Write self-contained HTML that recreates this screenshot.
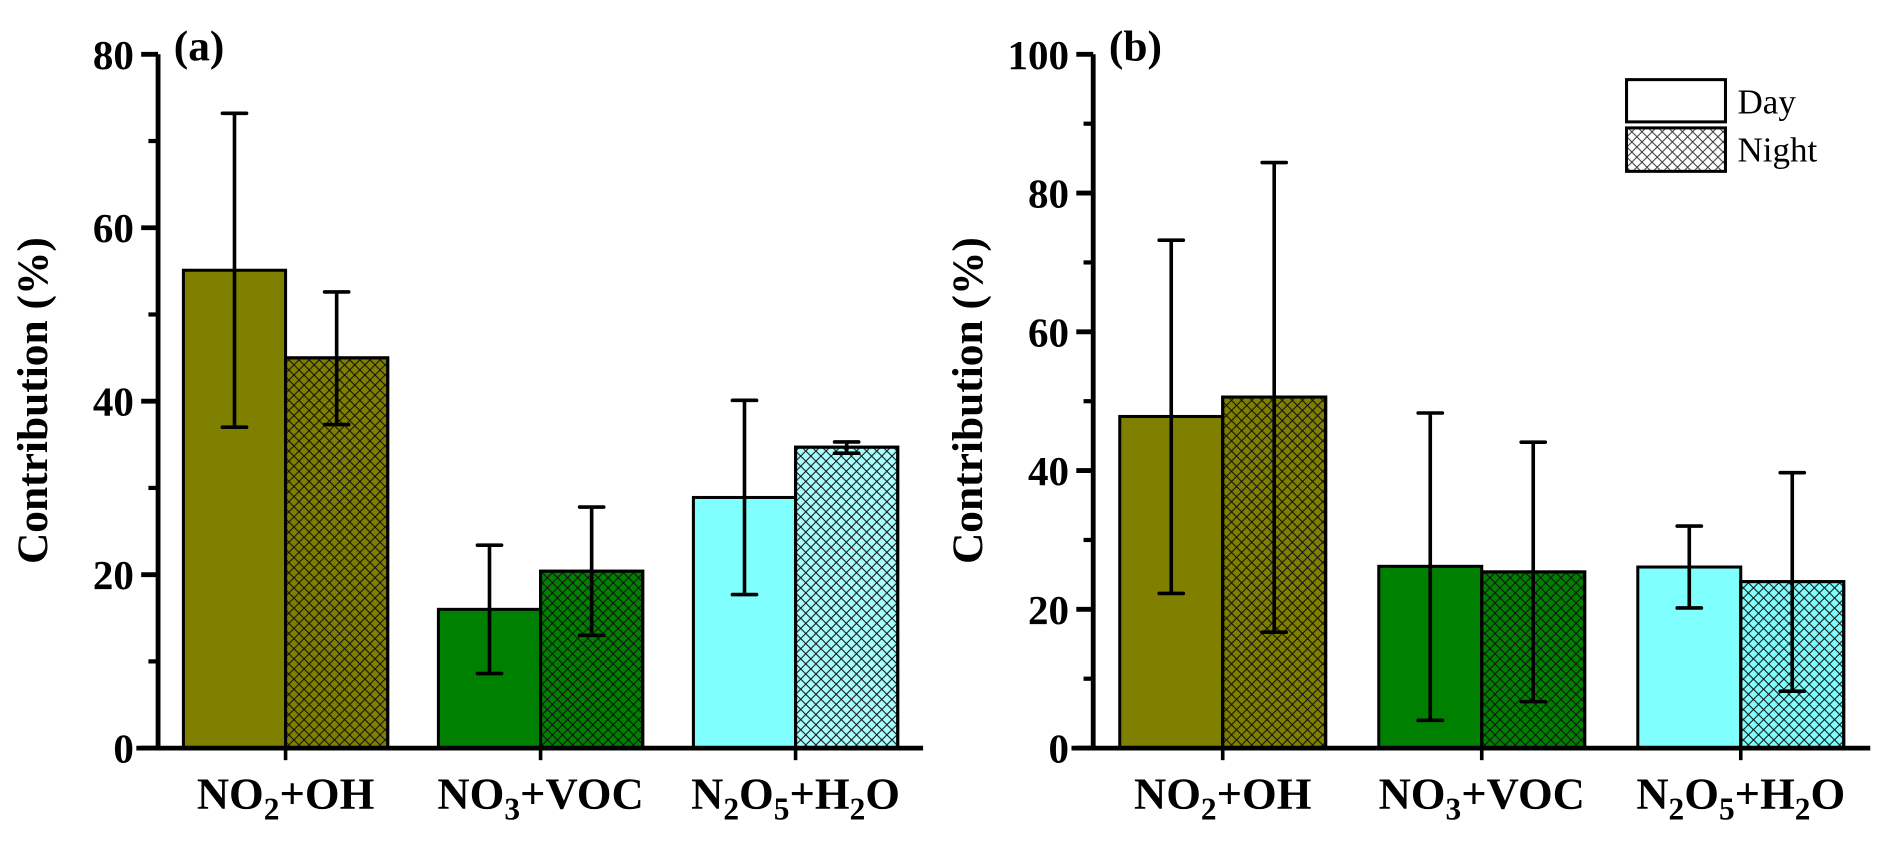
<!DOCTYPE html>
<html><head><meta charset="utf-8"><style>
html,body{margin:0;padding:0;background:#fff;}
svg{display:block;font-family:"Liberation Serif",serif;}
</style></head><body>
<svg id="chart" width="1892" height="845" viewBox="0 0 1568 700.3" xmlns="http://www.w3.org/2000/svg">
<defs>
<pattern id="hatchDark" patternUnits="userSpaceOnUse" width="8.4" height="8.4">
<path d="M0,0 L8.4,8.4 M8.4,0 L0,8.4" stroke="#111" stroke-width="0.9" fill="none"/>
</pattern>
<pattern id="hatchGrey" patternUnits="userSpaceOnUse" width="8.4" height="8.4">
<path d="M0,0 L8.4,8.4 M8.4,0 L0,8.4" stroke="#333" stroke-width="0.8" fill="none"/>
</pattern>
</defs>
<g id="pa"></g>
<g id="pb"></g>
<g>
<rect x="1348" y="66" width="82" height="35" fill="#fff" stroke="#000" stroke-width="2.5"/>
<text x="1440" y="94" font-size="29">Day</text>
<rect x="1348" y="106" width="82" height="36" fill="url(#hatchGrey)" stroke="#000" stroke-width="2.5"/>
<text x="1440" y="134" font-size="29">Night</text>
</g>
</svg>
<script>
const categories = ["NO2+OH", "NO3+VOC", "N2O5+H2O"];
const aDay = [55.1, 16.0, 28.9];
const aDayLo = [37.0, 8.6, 17.7];
const aDayHi = [73.2, 23.4, 40.1];
const aNight = [45.0, 20.4, 34.7];
const aNightLo = [37.3, 13.0, 34.0];
const aNightHi = [52.6, 27.8, 35.3];
const bDay = [47.8, 26.2, 26.1];
const bDayLo = [22.3, 4.0, 20.2];
const bDayHi = [73.2, 48.3, 32.0];
const bNight = [50.6, 25.4, 24.0];
const bNightLo = [16.7, 6.7, 8.2];
const bNightHi = [84.4, 44.1, 39.7];
const aTicks = [0, 20, 40, 60, 80];
const bTicks = [0, 20, 40, 60, 80, 100];
const colors = ["#808000", "#008000", "#80ffff"];

const NS = "http://www.w3.org/2000/svg";
function mk(parent, tag, attrs){const e=document.createElementNS(NS,tag);for(const k in attrs)e.setAttribute(k,attrs[k]);parent.appendChild(e);return e;}

function panel(g, cfg){
  const y = v => 620 - (v/cfg.max)*575;
  const slot = (cfg.right - cfg.axisX) / 3;
  const x0 = i => cfg.axisX + slot*i + cfg.pad;
  const bw = (slot - 2*cfg.pad)/2;
  for(let i=0;i<3;i++){
    const sets=[[cfg.day,cfg.dayLo,cfg.dayHi,0],[cfg.night,cfg.nightLo,cfg.nightHi,1]];
    sets.forEach(([vals,lo,hi,n])=>{
      const bx = x0(i)+n*bw;
      const r = mk(g,"rect",{x:bx,y:y(vals[i]),width:bw,height:620-y(vals[i]),fill:colors[i],stroke:"#000","stroke-width":2.5});
      
      
      if(n){
        if(cfg.lightCyan && i===2) r.setAttribute("fill","#a8ffff");
        const h = mk(g,"rect",{x:bx,y:y(vals[i]),width:bw,height:620-y(vals[i]),fill:"url(#hatchDark)",stroke:"#000","stroke-width":2.5});
        
        
      }
      const cx = bx+bw/2;
      const eb = mk(g,"path",{d:`M${cx},${y(lo[i])}V${y(hi[i])}M${cx-10},${y(lo[i])}H${cx+10}M${cx-10},${y(hi[i])}H${cx+10}`,stroke:"#000","stroke-width":3,fill:"none","stroke-linecap":"round"});
      
      
    });
    const t = mk(g,"line",{x1:x0(i)+bw,x2:x0(i)+bw,y1:620,y2:630,stroke:"#000","stroke-width":3});
    
    
    const lab = mk(g,"text",{x:x0(i)+bw,y:670,"font-size":37,"font-weight":"bold","text-anchor":"middle"});
    
    
    const parts = categories[i].match(/[A-Z+]+|\d/g);
    let sub=false;
    parts.forEach(p=>{
      const ts = document.createElementNS(NS,"tspan");
      if(/^\d$/.test(p)){ ts.setAttribute("dy","9"); ts.setAttribute("font-size","26"); sub=true; }
      else if(sub){ ts.setAttribute("dy","-9"); sub=false; }
      ts.textContent = p;
      lab.appendChild(ts);
    });
  }
  const ya = mk(g,"line",{x1:cfg.axisX,x2:cfg.axisX,y1:45,y2:622,stroke:"#000","stroke-width":4});
  
  
  const xa = mk(g,"line",{x1:cfg.axisX-18,x2:cfg.right,y1:620,y2:620,stroke:"#000","stroke-width":4});
  
  
  const step = cfg.ticks[1]-cfg.ticks[0];
  cfg.ticks.forEach((v,k)=>{
    const tk = mk(g,"line",{x1:cfg.axisX-14,x2:cfg.axisX,y1:y(v),y2:y(v),stroke:"#000","stroke-width":4});
    
    
    if(k<cfg.ticks.length-1){
      const mn = mk(g,"line",{x1:cfg.axisX-8,x2:cfg.axisX,y1:y(v+step/2),y2:y(v+step/2),stroke:"#000","stroke-width":3.5});
      
      
    }
    const tl = mk(g,"text",{x:cfg.axisX-20,y:y(v)+12,"font-size":34,"font-weight":"bold","text-anchor":"end"});
    
    
    tl.textContent = v;
  });
  const yt = mk(g,"text",{x:0,y:0,"font-size":36,"font-weight":"bold","text-anchor":"middle",transform:`translate(${cfg.axisX-92},332) rotate(-90)`});
  
  
  yt.textContent = "Contribution (%)";
  const pl = mk(g,"text",{x:cfg.axisX+13,y:50,"font-size":36,"font-weight":"bold"});
  
  
  pl.textContent = cfg.label;
}
panel(document.getElementById("pa"),{axisX:131,right:765,max:80,ticks:aTicks,pad:21,day:aDay,dayLo:aDayLo,dayHi:aDayHi,night:aNight,nightLo:aNightLo,nightHi:aNightHi,label:"(a)",lightCyan:true});
panel(document.getElementById("pb"),{axisX:906,right:1550,max:100,ticks:bTicks,pad:22,day:bDay,dayLo:bDayLo,dayHi:bDayHi,night:bNight,nightLo:bNightLo,nightHi:bNightHi,label:"(b)",lightCyan:false});
</script>
</body></html>
